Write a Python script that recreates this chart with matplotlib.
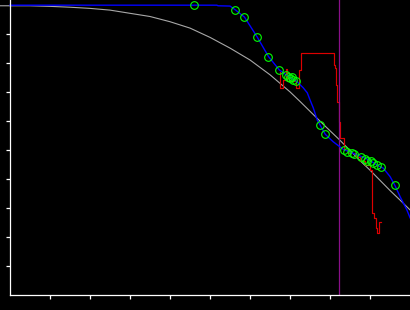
import matplotlib
matplotlib.use('Agg')
import matplotlib.pyplot as plt

# smooth reference curve (grey)
gray_x = [-0.25, 0.5, 1.0, 1.5, 2.0, 2.5, 3.0, 3.5, 4.0, 4.5, 5.0, 5.5, 6.0, 6.5, 7.0,
          7.25, 7.5, 7.75, 8.0, 8.25, 8.5, 8.75, 9.0, 9.25, 9.5, 9.75, 10.0]
gray_y = [0.997, 0.997, 0.995, 0.992, 0.988, 0.982, 0.971, 0.960, 0.942, 0.920, 0.888,
          0.851, 0.810, 0.759, 0.700, 0.667, 0.633, 0.599, 0.566, 0.533, 0.498, 0.463,
          0.430, 0.395, 0.360, 0.327, 0.293]

# fitted curve (blue)
blue_x = [0.0, 4.625, 5.17, 5.2, 5.5, 5.64, 5.86, 6.18, 6.46, 6.73, 6.9, 7.03, 7.17, 7.33,
          7.43, 7.5, 7.58, 7.68, 7.75, 7.88, 8.08, 8.33, 8.58, 8.75, 8.93, 9.05, 9.17,
          9.33, 9.5, 9.62, 9.75, 9.92, 10.0]
blue_y = [0.999, 0.999, 0.999, 0.997, 0.996, 0.982, 0.958, 0.889, 0.822, 0.776, 0.759,
          0.747, 0.736, 0.714, 0.697, 0.672, 0.645, 0.603, 0.586, 0.554, 0.528, 0.502,
          0.488, 0.479, 0.468, 0.459, 0.448, 0.437, 0.408, 0.378, 0.339, 0.293, 0.266]

# observed points (green circles)
pts_x = [4.61, 5.63, 5.86, 6.18, 6.46, 6.73, 6.89, 6.94, 7.01, 7.04, 7.08, 7.16, 7.75, 7.88,
         8.36, 8.42, 8.54, 8.6, 8.77, 8.88, 8.92, 9.02, 9.07, 9.17, 9.27, 9.62]
pts_y = [0.999, 0.982, 0.958, 0.889, 0.822, 0.776, 0.759, 0.753, 0.748, 0.751, 0.741, 0.736,
         0.586, 0.554, 0.500, 0.494, 0.491, 0.486, 0.477, 0.468, 0.463, 0.462, 0.456, 0.448,
         0.440, 0.378]

# empirical step curve (red)
red_x = [6.75, 6.75, 6.825, 6.9, 6.925, 7.15, 7.225, 7.275, 8.1, 8.125, 8.15, 8.175, 8.225,
         8.25, 8.35, 8.45, 8.65, 8.75, 8.875, 9.0, 9.06, 9.1, 9.15, 9.175, 9.225, 9.275]
red_y = [0.769, 0.714, 0.741, 0.779, 0.738, 0.714, 0.776, 0.834, 0.793, 0.783, 0.724, 0.666,
         0.597, 0.541, 0.500, 0.490, 0.476, 0.462, 0.448, 0.431, 0.283, 0.266, 0.231, 0.214,
         0.252, 0.252]

cut_x = 8.23

fig = plt.figure(figsize=(4.101, 3.101), dpi=100, facecolor='black')
ax = fig.add_axes([0, 0, 1, 1])
ax.set_facecolor('black')

ax.plot(gray_x, gray_y, color='#a8a8a8', lw=0.8)
ax.plot(red_x, red_y, color='#dd0000', lw=0.85, drawstyle='steps-post')
ax.vlines(cut_x, 0, 1.02, color='#8a108a', lw=0.9)
ax.plot(blue_x, blue_y, color='#0000ff', lw=1.0)
ax.plot(pts_x, pts_y, 'o', ms=5.5, mfc='none', mec='#00ff00', mew=0.8)

ax.set_xlim(-0.25, 10)
ax.set_ylim(-15 / 290, 1 + 5 / 290)

for s in ['top', 'right']:
    ax.spines[s].set_visible(False)
ax.spines['left'].set_position(('data', 0))
ax.spines['bottom'].set_position(('data', 0))
ax.spines['left'].set_bounds(0, 1 + 5 / 290)
ax.spines['bottom'].set_bounds(0, 10)
for s in ['left', 'bottom']:
    ax.spines[s].set_color('white')
    ax.spines[s].set_linewidth(0.9)

ax.set_xticks(range(1, 10))
ax.set_yticks([i / 10 for i in range(1, 10)])
ax.tick_params(colors='white', direction='out', length=3, width=0.9,
               labelbottom=False, labelleft=False)

fig.savefig('out.png', dpi=100, facecolor='black')
